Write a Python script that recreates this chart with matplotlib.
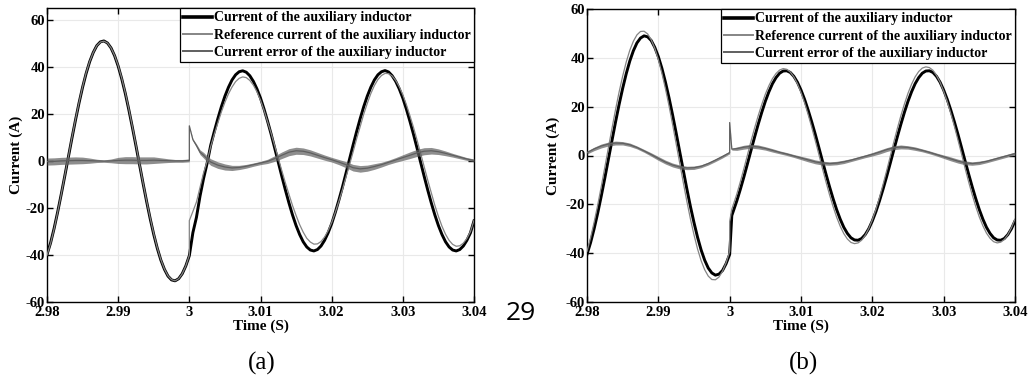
import matplotlib
matplotlib.use("Agg")
import matplotlib.pyplot as plt
from matplotlib.lines import Line2D

# ---------------- data ----------------
x_ticks = [2.98, 2.99, 3.00, 3.01, 3.02, 3.03, 3.04]
x_tick_labels = ["2.98", "2.99", "3", "3.01", "3.02", "3.03", "3.04"]
y_ticks = [-60, -40, -20, 0, 20, 40, 60]
y_tick_labels = ["-60", "-40", "-20", "0", "20", "40", "60"]

legend_labels = ["Current of the auxiliary inductor",
                 "Reference current of the auxiliary inductor",
                 "Current error of the auxiliary inductor"]

T0 = 2.98  # start of the time window (s); sample times below are ms after T0

# ---- panel (a): inductor current and its reference ----
t_ms_a = [0, 0.5, 1, 1.5, 2, 2.5, 3, 3.5, 4, 4.5,
          5, 5.5, 6, 6.5, 7, 7.5, 8, 8.5, 9, 9.5,
          10, 10.5, 11, 11.5, 12, 12.5, 13, 13.5, 14, 14.5,
          15, 15.5, 16, 16.5, 17, 17.5, 18, 18.5, 19, 19.5,
          20,
          20, 20.5, 21, 21.5, 22, 22.5,
          23, 23.5, 24, 24.5, 25, 25.5, 26, 26.5, 27, 27.5,
          28, 28.5, 29, 29.5, 30, 30.5, 31, 31.5, 32, 32.5,
          33, 33.5, 34, 34.5, 35, 35.5, 36, 36.5, 37, 37.5,
          38, 38.5, 39, 39.5, 40, 40.5, 41, 41.5, 42, 42.5,
          43, 43.5, 44, 44.5, 45, 45.5, 46, 46.5, 47, 47.5,
          48, 48.5, 49, 49.5, 50, 50.5, 51, 51.5, 52, 52.5,
          53, 53.5, 54, 54.5, 55, 55.5, 56, 56.5, 57, 57.5,
          58, 58.5, 59, 59.5, 60]
cur_a = [-39.8, -34.9, -28.7, -21.7, -14.2, -6.4, 1.6, 9.6, 17.3, 24.6,
         31.3, 37.2, 42.2, 46.1, 49.0, 50.6, 51.0, 50.1, 48.0, 44.7,
         40.3, 34.9, 28.7, 21.7, 14.2, 6.4, -1.6, -9.6, -17.3, -24.6,
         -31.3, -37.2, -42.2, -46.1, -49.0, -50.6, -51.0, -50.1, -48.0, -44.7,
         -40.3,
         -40.3, -30.5, -24.0, -15.0, -7.5, -1.0,
         6.6, 12.4, 17.9, 23.0, 27.5, 31.3, 34.4, 36.6, 37.9, 38.3,
         37.7, 36.2, 33.8, 30.6, 26.7, 22.0, 16.8, 11.3, 5.4, -0.6,
         -6.6, -12.4, -17.9, -23.0, -27.5, -31.3, -34.4, -36.6, -37.9, -38.3,
         -37.7, -36.2, -33.8, -30.6, -26.7, -22.0, -16.8, -11.3, -5.4, 0.6,
         6.6, 12.4, 17.9, 23.0, 27.5, 31.3, 34.4, 36.6, 37.9, 38.4,
         37.8, 36.2, 33.8, 30.6, 26.7, 22.0, 16.8, 11.3, 5.4, -0.6,
         -6.6, -12.4, -17.9, -23.0, -27.5, -31.3, -34.4, -36.6, -37.9, -38.3,
         -37.7, -36.2, -33.8, -30.6, -25.5]
ref_a = [-40.1, -35.1, -28.9, -21.8, -14.2, -6.3, 1.7, 9.8, 17.5, 24.8,
         31.5, 37.4, 42.3, 46.1, 49.0, 50.5, 50.9, 50.1, 48.0, 44.8,
         40.5, 35.2, 29.0, 22.0, 14.5, 6.7, -1.4, -9.4, -17.1, -24.3,
         -31.0, -37.0, -42.0, -46.0, -48.9, -50.5, -51.0, -50.1, -48.0, -44.7,
         -40.1,
         -25.4, -21.5, -17.5, -11.3, -5.1, -0.2,
         6.1, 11.2, 16.1, 20.8, 24.9, 28.5, 31.4, 33.7, 35.1, 35.7,
         35.4, 34.2, 32.2, 29.4, 25.8, 21.5, 16.6, 11.7, 6.4, 1.1,
         -4.2, -9.4, -14.2, -19.0, -23.2, -27.1, -30.3, -32.9, -34.5, -35.4,
         -35.3, -34.3, -32.4, -29.7, -26.2, -22.0, -17.3, -12.4, -7.0, -1.7,
         3.7, 9.3, 14.5, 19.8, 24.4, 28.6, 32.0, 34.6, 36.3, 37.2,
         37.1, 36.1, 34.2, 31.5, 28.1, 23.9, 19.2, 14.2, 8.8, 3.2,
         -2.5, -8.2, -13.6, -18.9, -23.6, -27.8, -31.2, -33.8, -35.5, -36.3,
         -36.1, -35.0, -33.0, -30.1, -25.3]

# ---- panel (a): current error ----
t_ms_a_err = [0, 1, 2, 3, 4, 5, 6, 7, 8, 9,
              10, 11, 12, 13, 14, 15, 16, 17, 18, 19,
              20, 20, 20.5, 21, 21.5, 22, 22.5,
              23, 24, 25, 26, 27, 28, 29, 30, 31, 32,
              33, 34, 35, 36, 37, 38, 39, 40, 41, 42,
              43, 44, 45, 46, 47, 48, 49, 50, 51, 52,
              53, 54, 55, 56, 57, 58, 59, 60]
err_a = [-0.3, -0.2, 0.0, 0.1, 0.2, 0.2, 0.1, 0.0, -0.1, 0.0,
         0.2, 0.3, 0.3, 0.2, 0.2, 0.3, 0.2, 0.1, 0.0, 0.0,
         0.2, 14.9, 9.0, 6.5, 3.7, 2.4, 0.8,
         -0.5, -1.8, -2.6, -3.0, -2.8, -2.3, -1.6, -0.9, -0.2, 1.0,
         2.4, 3.7, 4.3, 4.1, 3.4, 2.4, 1.4, 0.5, -0.5, -1.6,
         -2.9, -3.4, -3.1, -2.4, -1.6, -0.6, 0.4, 1.4, 2.4, 3.4,
         4.1, 4.3, 3.9, 3.2, 2.4, 1.6, 0.8, 0.2]
# half-height of the switching-ripple band on the error trace
rip_a = [1.5, 1.5, 1.5, 1.5, 1.5, 1.4, 1.1, 0.7, 0.5, 0.8,
         1.3, 1.5, 1.5, 1.5, 1.5, 1.4, 1.1, 0.8, 0.6, 0.6,
         0.6, 0.0, 0.4, 0.7, 1.0, 1.2, 1.3,
         1.4, 1.4, 1.3, 1.1, 0.9, 0.8, 0.7, 0.7, 0.9, 1.2,
         1.4, 1.5, 1.5, 1.4, 1.3, 1.2, 1.1, 1.0, 1.1, 1.3,
         1.4, 1.4, 1.3, 1.2, 1.0, 0.9, 1.0, 1.2, 1.4, 1.5,
         1.5, 1.4, 1.2, 1.0, 0.8, 0.7, 0.6, 0.6]

# ---- panel (b): inductor current and its reference ----
t_ms_b = [0, 0.5, 1, 1.5, 2, 2.5, 3, 3.5, 4, 4.5,
          5, 5.5, 6, 6.5, 7, 7.5, 8, 8.5, 9, 9.5,
          10, 10.5, 11, 11.5, 12, 12.5, 13, 13.5, 14, 14.5,
          15, 15.5, 16, 16.5, 17, 17.5, 18, 18.5, 19, 19.5,
          20,
          20, 20.3,
          21, 21.5, 22, 22.5, 23, 23.5, 24, 24.5, 25, 25.5,
          26, 26.5, 27, 27.5, 28, 28.5, 29, 29.5, 30, 30.5,
          31, 31.5, 32, 32.5, 33, 33.5, 34, 34.5, 35, 35.5,
          36, 36.5, 37, 37.5, 38, 38.5, 39, 39.5, 40, 40.5,
          41, 41.5, 42, 42.5, 43, 43.5, 44, 44.5, 45, 45.5,
          46, 46.5, 47, 47.5, 48, 48.5, 49, 49.5, 50, 50.5,
          51, 51.5, 52, 52.5, 53, 53.5, 54, 54.5, 55, 55.5,
          56, 56.5, 57, 57.5, 58, 58.5, 59, 59.5, 60]
cur_b = [-40.5, -35.7, -30.0, -23.6, -16.6, -9.2, -1.5, 6.1, 13.7, 20.9,
         27.5, 33.5, 38.7, 42.9, 46.1, 48.1, 49.0, 48.6, 47.1, 44.3,
         40.5, 35.7, 30.0, 23.6, 16.6, 9.2, 1.5, -6.1, -13.7, -20.9,
         -27.5, -33.5, -38.7, -42.9, -46.1, -48.1, -49.0, -48.6, -47.1, -44.3,
         -40.5,
         -40.5, -24.6,
         -18.6, -13.8, -8.7, -3.3, 2.2, 7.6, 12.8, 17.7, 22.2, 26.1,
         29.4, 31.9, 33.7, 34.6, 34.7, 34.0, 32.4, 30.0, 26.8, 23.0,
         18.6, 13.8, 8.7, 3.3, -2.2, -7.6, -12.8, -17.7, -22.2, -26.1,
         -29.4, -31.9, -33.7, -34.6, -34.7, -34.0, -32.4, -30.0, -26.8, -23.0,
         -18.6, -13.8, -8.7, -3.3, 2.2, 7.6, 12.8, 17.7, 22.2, 26.1,
         29.4, 31.9, 33.7, 34.6, 34.7, 34.0, 32.4, 30.0, 26.8, 23.0,
         18.6, 13.8, 8.7, 3.3, -2.2, -7.6, -12.8, -17.7, -22.2, -26.1,
         -29.4, -31.9, -33.7, -34.6, -34.7, -34.0, -32.4, -30.0, -26.8]
ref_b = [-39.3, -33.7, -27.3, -20.3, -12.7, -4.8, 3.2, 11.1, 18.8, 26.0,
         32.5, 38.3, 43.1, 46.8, 49.4, 50.8, 50.9, 49.8, 47.4, 43.9,
         39.3, 33.7, 27.3, 20.3, 12.7, 4.8, -3.2, -11.1, -18.8, -26.0,
         -32.5, -38.3, -43.1, -46.8, -49.4, -50.8, -50.9, -49.8, -47.4, -43.9,
         -39.3,
         -27.0, -22.0,
         -15.8, -10.7, -5.3, 0.3, 6.0, 11.3, 16.3, 20.9, 25.1, 28.6,
         31.5, 33.6, 35.0, 35.6, 35.3, 34.2, 32.2, 29.4, 25.8, 21.6,
         16.8, 11.6, 6.1, 0.5, -5.3, -10.8, -16.1, -20.9, -25.3, -29.0,
         -32.0, -34.2, -35.6, -36.1, -35.8, -34.7, -32.7, -29.9, -26.3, -22.1,
         -17.2, -11.9, -6.3, -0.5, 5.4, 11.0, 16.3, 21.1, 25.5, 29.2,
         32.2, 34.4, 35.8, 36.3, 36.0, 34.9, 32.8, 30.0, 26.3, 22.1,
         17.2, 12.0, 6.4, 0.7, -5.2, -10.8, -16.1, -20.9, -25.2, -28.8,
         -31.8, -33.9, -35.3, -35.8, -35.5, -34.4, -32.4, -29.6, -26.0]

# ---- panel (b): current error ----
t_ms_b_err = [0, 1, 2, 3, 4, 5, 6, 7, 8, 9,
              10, 11, 12, 13, 14, 15, 16, 17, 18, 19,
              20, 20, 20.3,
              21, 22, 23, 24, 25, 26, 27, 28, 29, 30,
              31, 32, 33, 34, 35, 36, 37, 38, 39, 40,
              41, 42, 43, 44, 45, 46, 47, 48, 49, 50,
              51, 52, 53, 54, 55, 56, 57, 58, 59, 60]
err_b = [1.2, 2.7, 3.9, 4.7, 5.1, 5.0, 4.4, 3.3, 1.9, 0.4,
         -1.2, -2.7, -3.9, -4.7, -5.1, -5.0, -4.4, -3.3, -1.9, -0.4,
         1.2, 13.5, 2.6,
         2.8, 3.4, 3.8, 3.5, 2.9, 2.1, 1.3, 0.6, -0.2, -1.0,
         -1.8, -2.6, -3.1, -3.3, -3.1, -2.6, -1.9, -1.1, -0.3, 0.5,
         1.4, 2.4, 3.2, 3.5, 3.3, 2.8, 2.1, 1.3, 0.4, -0.5,
         -1.4, -2.3, -3.0, -3.3, -3.0, -2.4, -1.6, -0.8, 0.0, 0.8]
rip_b = [0.6, 0.7, 0.8, 0.8, 0.8, 0.7, 0.7, 0.6, 0.6, 0.7,
         0.8, 0.8, 0.8, 0.8, 0.7, 0.7, 0.6, 0.6, 0.6, 0.6,
         0.5, 0.0, 0.4,
         0.7, 0.8, 0.8, 0.8, 0.7, 0.7, 0.6, 0.6, 0.6, 0.7,
         0.8, 0.8, 0.8, 0.7, 0.7, 0.7, 0.6, 0.6, 0.6, 0.7,
         0.8, 0.8, 0.8, 0.8, 0.7, 0.7, 0.6, 0.6, 0.6, 0.7,
         0.8, 0.8, 0.8, 0.7, 0.7, 0.6, 0.6, 0.6, 0.6, 0.6]

# ---------------- styling ----------------
plt.rcParams['font.family'] = ['Liberation Serif', 'DejaVu Serif']
plt.rcParams['font.weight'] = 'bold'

C_CUR = '#000000'
C_REF = '#858585'
C_ERR = '#5f5f5f'
LW_CUR, LW_REF, LW_ERR = 2.1, 0.9, 0.9

fig = plt.figure(figsize=(10.30, 3.78), dpi=100)
W, H = 1030.0, 378.0
ax_a = fig.add_axes([47 / W, 76 / H, 427 / W, 294 / H])
ax_b = fig.add_axes([587 / W, 76 / H, 428 / W, 293 / H])


def to_s(ms_list):
    return [T0 + m / 1000.0 for m in ms_list]


def draw(ax, t_ms, cur, ref, t_ms_err, err, rip, ylim, ylab_x):
    t = to_s(t_ms)
    te = to_s(t_ms_err)
    lo = [e - r for e, r in zip(err, rip)]
    hi = [e + r for e, r in zip(err, rip)]
    ax.plot(t, cur, color=C_CUR, lw=LW_CUR, zorder=3, solid_joinstyle='round')
    ax.plot(t, ref, color=C_REF, lw=LW_REF, zorder=4)
    ax.fill_between(te, lo, hi, color=C_ERR, lw=0, alpha=0.7, zorder=5)
    ax.plot(te, err, color=C_ERR, lw=LW_ERR, zorder=6)

    ax.set_xlim(2.98, 3.04)
    ax.set_ylim(*ylim)
    ax.set_xticks(x_ticks)
    ax.set_xticklabels(x_tick_labels)
    ax.set_yticks(y_ticks)
    ax.set_yticklabels(y_tick_labels)
    ax.tick_params(direction='in', top=True, right=True, length=4, width=1,
                   labelsize=10.5, colors='black')
    ax.tick_params(axis='x', pad=3)
    ax.tick_params(axis='y', pad=1.5)
    for lab in ax.get_xticklabels() + ax.get_yticklabels():
        lab.set_fontweight('bold')
    ax.grid(True, color='#e9e9e9', lw=0.8)
    ax.set_axisbelow(True)
    for s in ax.spines.values():
        s.set_linewidth(1.0)
        s.set_color('black')

    ax.set_ylabel('Current (A)', fontsize=11, fontweight='bold')
    ax.yaxis.set_label_coords(ylab_x, 0.5)
    ax.set_xlabel('Time (S)', fontsize=11, fontweight='bold')
    ax.xaxis.set_label_coords(0.5, -0.06)

    handles = [Line2D([], [], color=C_CUR, lw=2.6),
               Line2D([], [], color=C_REF, lw=1.4),
               Line2D([], [], color=C_ERR, lw=1.4)]
    leg = ax.legend(handles, legend_labels, loc='upper right',
                    bbox_to_anchor=(1.0, 1.0), borderaxespad=0.0,
                    fancybox=False, framealpha=1, edgecolor='black',
                    prop={'weight': 'bold', 'size': 10},
                    handlelength=2.1, handletextpad=0.1, borderpad=0.25,
                    labelspacing=0.3)
    leg.get_frame().set_linewidth(0.9)
    leg.set_zorder(10)


draw(ax_a, t_ms_a, cur_a, ref_a, t_ms_a_err, err_a, rip_a, (-60, 65), -0.056)
draw(ax_b, t_ms_b, cur_b, ref_b, t_ms_b_err, err_b, rip_b, (-60, 60), -0.062)

fig.text(262 / W, 1 - 363 / H, '(a)', ha='center', va='center', fontsize=18,
         fontweight='normal', family=['Liberation Serif'])
fig.text(803 / W, 1 - 363 / H, '(b)', ha='center', va='center', fontsize=18,
         fontweight='normal', family=['Liberation Serif'])
fig.text(521 / W, 1 - 313 / H, '29', ha='center', va='center', fontsize=19,
         fontweight='normal', family=['Open Sans', 'DejaVu Sans'])

fig.savefig('out.png', dpi=100)
